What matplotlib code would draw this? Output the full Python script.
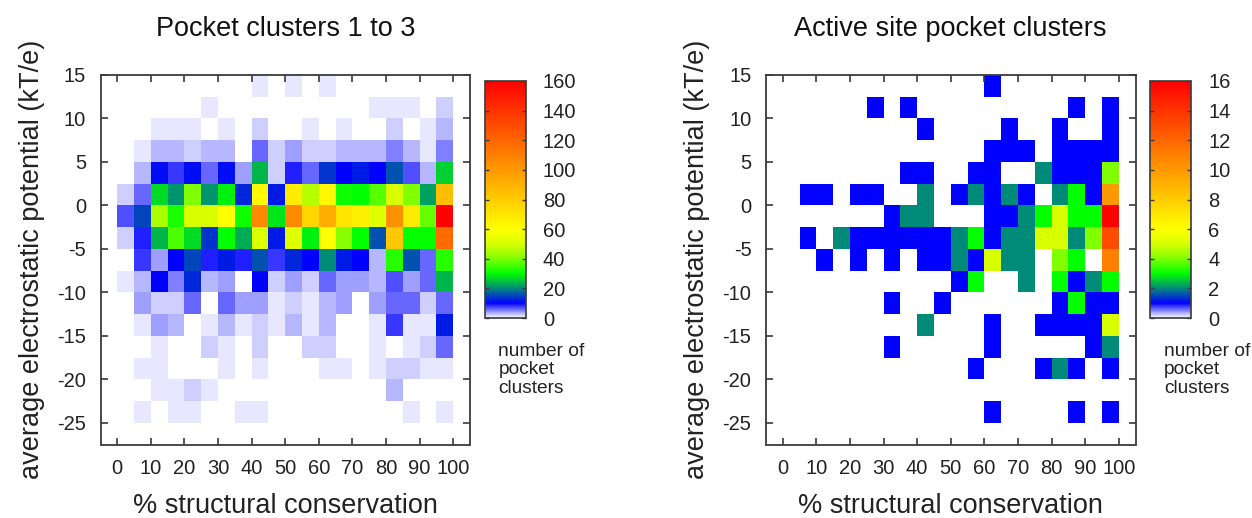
import matplotlib
matplotlib.use('Agg')
import matplotlib.pyplot as plt
from matplotlib.colors import LinearSegmentedColormap
import numpy as np

plt.rcParams['font.family'] = ['Liberation Sans', 'DejaVu Sans']
plt.rcParams['axes.unicode_minus'] = False

W, H = 1252, 518
DARK = '#3a3a3a'

# bin edges of both heat maps
conservation_edges = np.arange(0, 105, 5)
potential_edges = np.arange(15, -27.5, -2.5)

# number of pocket clusters, one row per potential bin from top to bottom
all_rows = [
    [0, 0, 0, 0, 0, 0, 0, 0, 1, 0, 1, 0, 1, 0, 0, 0, 0, 0, 0, 0],
    [0, 0, 0, 0, 0, 1, 0, 0, 0, 0, 0, 0, 0, 0, 0, 1, 1, 1, 0, 2],
    [0, 0, 1, 1, 1, 0, 1, 0, 2, 0, 0, 1, 0, 1, 0, 0, 2, 0, 1, 3],
    [0, 1, 3, 3, 2, 3, 3, 0, 6, 2, 4, 2, 2, 3, 3, 3, 5, 3, 1, 5],
    [0, 3, 11, 8, 11, 6, 11, 4, 24, 2, 9, 6, 14, 10, 12, 10, 16, 7, 3, 26],
    [2, 6, 27, 21, 40, 21, 29, 13, 62, 12, 68, 46, 63, 31, 30, 37, 50, 40, 22, 85],
    [7, 15, 45, 32, 50, 50, 60, 31, 106, 28, 106, 76, 92, 70, 66, 52, 103, 68, 38, 160],
    [2, 9, 24, 36, 27, 14, 30, 23, 51, 12, 52, 29, 60, 41, 30, 16, 82, 30, 30, 118],
    [0, 8, 4, 10, 15, 9, 12, 9, 16, 8, 13, 10, 20, 12, 10, 3, 33, 16, 6, 33],
    [1, 3, 10, 5, 13, 3, 4, 0, 10, 2, 4, 2, 6, 4, 4, 3, 7, 4, 6, 24],
    [0, 4, 2, 2, 6, 0, 6, 4, 4, 1, 2, 1, 3, 4, 0, 4, 6, 6, 2, 6],
    [0, 1, 4, 3, 0, 1, 3, 1, 2, 1, 3, 1, 3, 0, 0, 1, 8, 1, 1, 12],
    [0, 0, 1, 0, 0, 2, 1, 0, 2, 0, 0, 2, 2, 0, 0, 1, 0, 1, 2, 6],
    [0, 1, 1, 0, 0, 0, 1, 0, 1, 0, 0, 0, 1, 1, 0, 1, 2, 2, 1, 1],
    [0, 0, 1, 1, 2, 1, 0, 0, 0, 0, 0, 0, 0, 0, 0, 0, 3, 0, 0, 0],
    [0, 1, 0, 1, 1, 0, 0, 1, 1, 0, 0, 0, 0, 0, 0, 0, 0, 1, 0, 1],
]
active_rows = [
    [0, 0, 0, 0, 0, 0, 0, 0, 0, 0, 0, 0, 1, 0, 0, 0, 0, 0, 0, 0],
    [0, 0, 0, 0, 0, 1, 0, 1, 0, 0, 0, 0, 0, 0, 0, 0, 0, 1, 0, 1],
    [0, 0, 0, 0, 0, 0, 0, 0, 1, 0, 0, 0, 0, 1, 0, 0, 1, 0, 0, 1],
    [0, 0, 0, 0, 0, 0, 0, 0, 0, 0, 0, 0, 1, 1, 1, 0, 1, 1, 1, 1],
    [0, 0, 0, 0, 0, 0, 0, 1, 1, 0, 0, 1, 1, 0, 0, 2, 1, 1, 1, 4],
    [0, 1, 1, 0, 1, 1, 0, 0, 2, 0, 1, 2, 1, 2, 1, 0, 2, 3, 1, 10],
    [0, 0, 0, 0, 0, 0, 1, 2, 2, 0, 0, 0, 1, 1, 2, 3, 5, 3, 3, 16],
    [0, 1, 0, 2, 1, 1, 1, 1, 1, 1, 2, 3, 1, 2, 2, 5, 5, 2, 4, 13],
    [0, 0, 1, 0, 1, 0, 1, 0, 1, 1, 2, 1, 5, 2, 2, 0, 4, 3, 0, 11],
    [0, 0, 0, 0, 0, 0, 0, 0, 0, 0, 1, 3, 0, 0, 2, 0, 3, 1, 2, 3],
    [0, 0, 0, 0, 0, 0, 1, 0, 0, 1, 0, 0, 0, 0, 0, 0, 1, 3, 1, 1],
    [0, 0, 0, 0, 0, 0, 0, 0, 2, 0, 0, 0, 1, 0, 0, 1, 1, 1, 1, 5],
    [0, 0, 0, 0, 0, 0, 1, 0, 0, 0, 0, 0, 1, 0, 0, 0, 0, 0, 1, 2],
    [0, 0, 0, 0, 0, 0, 0, 0, 0, 0, 0, 1, 0, 0, 0, 1, 2, 1, 0, 1],
    [0, 0, 0, 0, 0, 0, 0, 0, 0, 0, 0, 0, 0, 0, 0, 0, 0, 0, 0, 0],
    [0, 0, 0, 0, 0, 0, 0, 0, 0, 0, 0, 0, 1, 0, 0, 0, 0, 1, 0, 1],
]

x_ticks = list(range(0, 101, 10))
y_ticks = list(range(-25, 16, 5))
all_cbar_ticks = list(range(0, 161, 20))
active_cbar_ticks = list(range(0, 17, 2))

palette = LinearSegmentedColormap.from_list('pockets', [
    (0.0, '#ffffff'),
    (0.0625, '#0000ff'),
    (0.125, '#008a78'),
    (0.1875, '#00ff00'),
    (0.25, '#7fff00'),
    (0.3125, '#d8ff00'),
    (0.375, '#ffff00'),
    (1.0, '#ff0000'),
], N=512)


# Convert a box given in pixels of the picture to figure fractions
def px_box(left, top, right, bottom):
    return [left / W, 1 - bottom / H, (right - left) / W, (bottom - top) / H]


def plot_panel(fig, left, rows, vmax, cbar_ticks, title):
    ax = fig.add_axes(px_box(left, 75, left + 369.5, 444.5))
    mesh = ax.pcolormesh(conservation_edges, potential_edges, np.array(rows),
                         cmap=palette, vmin=0, vmax=vmax,
                         edgecolors='none', antialiased=False)
    ax.set_xlim(-5, 105)
    ax.set_ylim(-27.5, 15)
    ax.set_xticks(x_ticks)
    ax.set_yticks(y_ticks)
    ax.tick_params(direction='in', top=True, right=True, length=5, width=1.2,
                   color=DARK, labelsize=14.5, labelcolor='#222222', pad=10.5)
    for spine in ax.spines.values():
        spine.set_linewidth(1.3)
        spine.set_color(DARK)
    ax.set_xlabel('% structural conservation', fontsize=19.5, color='#222222', labelpad=11)
    ax.set_ylabel('average electrostatic potential (kT/e)', fontsize=19.5,
                  color='#222222', labelpad=9)
    ax.set_title(title, fontsize=19.5, color='#111111', pad=28)

    cax = fig.add_axes(px_box(left + 384, 81, left + 425, 318))
    cbar = fig.colorbar(mesh, cax=cax, ticks=cbar_ticks)
    cbar.outline.set_linewidth(1.2)
    cbar.outline.set_edgecolor(DARK)
    cax.tick_params(direction='in', left=True, right=True, length=3, width=1,
                    color=DARK, labelsize=14.5, labelcolor='#222222', pad=12.5)
    fig.text((left + 398) / W, 1 - 370 / H, 'number of\npocket\nclusters',
             fontsize=13.8, color='#222222', va='center', ha='left', linespacing=1.15)


fig = plt.figure(figsize=(W / 100, H / 100), dpi=100)
plot_panel(fig, 100.5, all_rows, 160, all_cbar_ticks, 'Pocket clusters 1 to 3')
plot_panel(fig, 766, active_rows, 16, active_cbar_ticks, 'Active site pocket clusters')
fig.savefig('out.png', dpi=100)
